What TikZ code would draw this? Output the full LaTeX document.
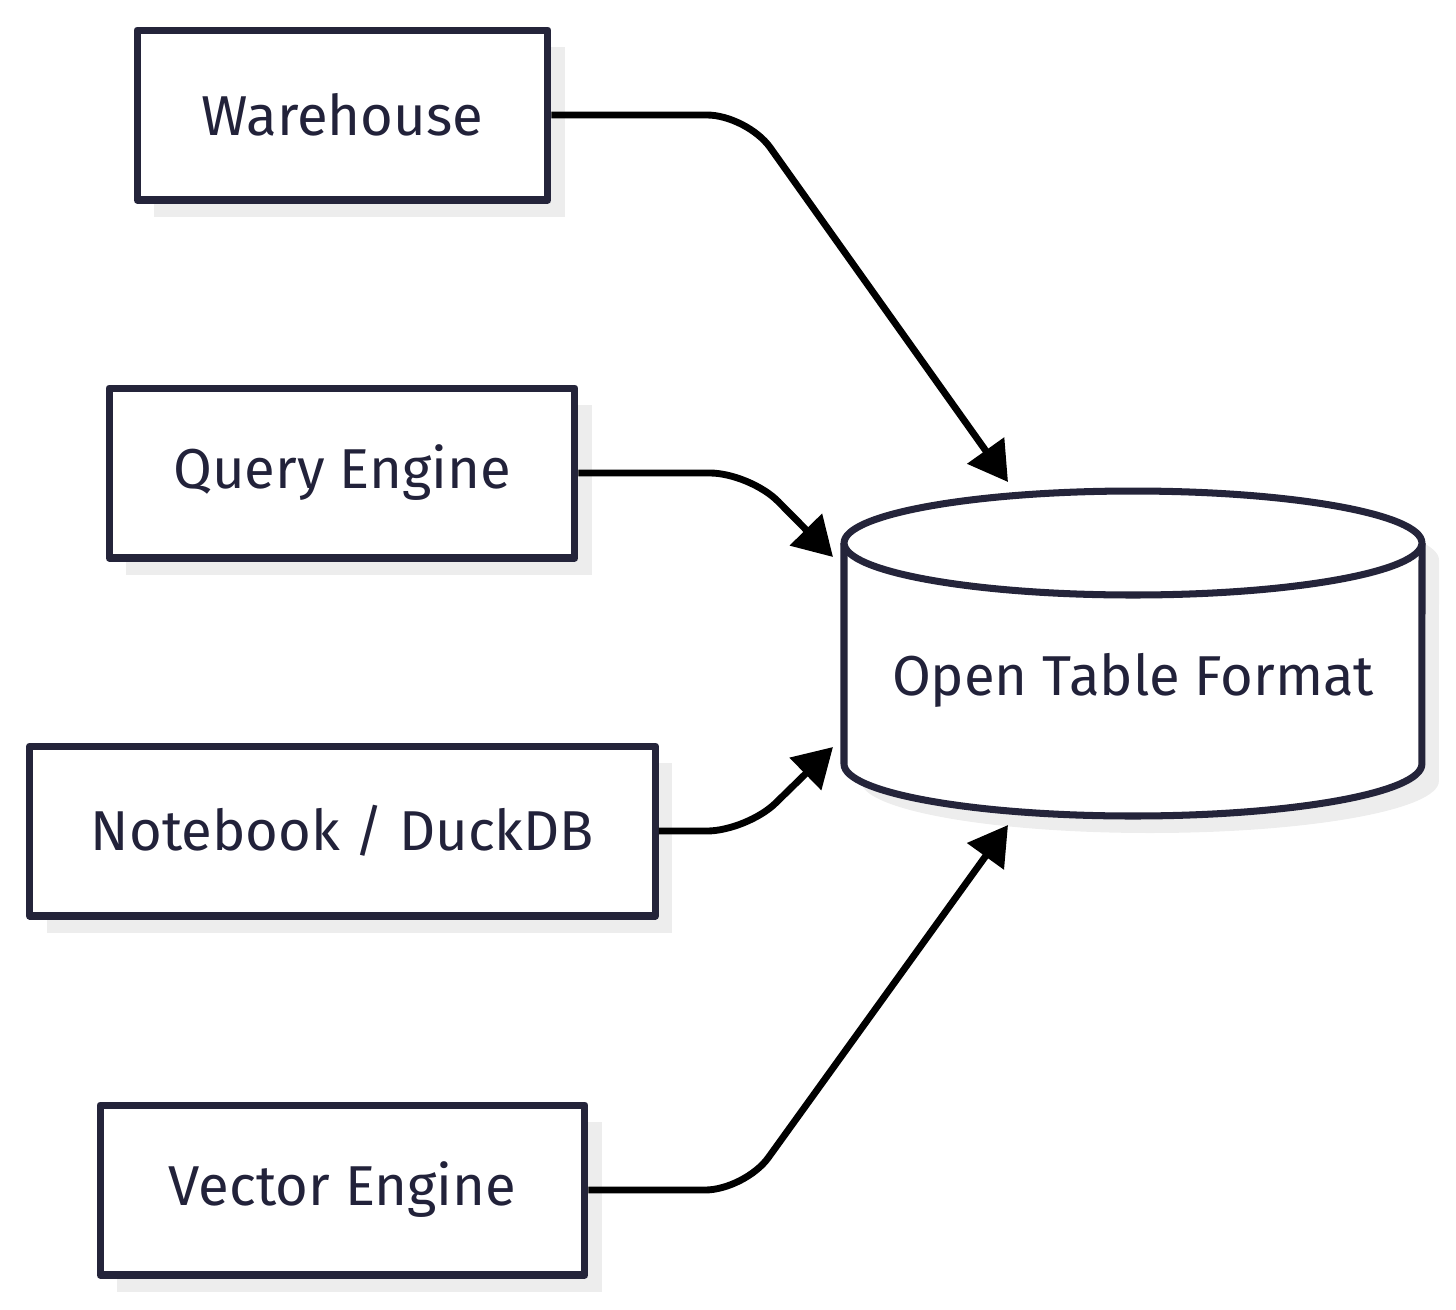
\documentclass[tikz,border=0pt]{standalone}
\usepackage{fontspec}
\setmainfont{Fira Sans}
\usetikzlibrary{arrows.meta,shadows}
\definecolor{linec}{HTML}{24243A}
\definecolor{txtc}{HTML}{22223A}
\definecolor{shadowc}{HTML}{EDEDED}
\begin{document}
\begin{tikzpicture}[x=0.02cm,y=-0.02cm,line join=round,font=\fontsize{32}{38}\selectfont,
	box/.style={draw=linec,line width=4pt,fill=white,text=txtc,inner sep=0pt,minimum height=3.4cm,
		drop shadow={shadow xshift=0.34cm,shadow yshift=-0.34cm,fill=shadowc,opacity=1}},
	link/.style={line width=3.9pt,black,rounded corners=0.8cm,-{Triangle[length=22pt,width=25pt]}}]
	\useasboundingbox(0,0)rectangle(1456,1309);
	% cylinder
	\begin{scope}[shift={(17,17)}]
		\fill[shadowc](844,543)--(844,764)arc[start angle=180,end angle=360,x radius=5.78cm,y radius=1.04cm]
		--(1422,543)arc[start angle=0,end angle=180,x radius=5.78cm,y radius=1.04cm]--cycle;
	\end{scope}
	\draw[linec,line width=4pt,fill=white]
	(844,543)--(844,764)arc[start angle=180,end angle=360,x radius=5.78cm,y radius=1.04cm]--(1422,543);
	\draw[linec,line width=4pt,fill=white](1133,543)ellipse[x radius=5.78cm,y radius=1.04cm];
	\node[text=txtc] (db) at (1133,680) {Open Table Format};
	% engines
	\node[box,minimum width=8.22cm] (wh) at (342.5,115) {Warehouse};
	\node[box,minimum width=9.32cm] (qe) at (342,473) {Query Engine};
	\node[box,minimum width=12.52cm] (nb) at (342.5,831) {Notebook / DuckDB};
	\node[box,minimum width=9.7cm] (ve) at (342.5,1190) {Vector Engine};
	\coordinate (tW) at (1008,482);
	\coordinate (tQ) at (833,557);
	\coordinate (tN) at (833,747);
	\coordinate (tV) at (1008,825);
	\draw[link] (wh.east)--(747,115)--(tW);
	\draw[link] (qe.east)--(750,473)--(tQ);
	\draw[link] (nb.east)--(747,831)--(tN);
	\draw[link] (ve.east)--(745,1190)--(tV);
\end{tikzpicture}
\end{document}
